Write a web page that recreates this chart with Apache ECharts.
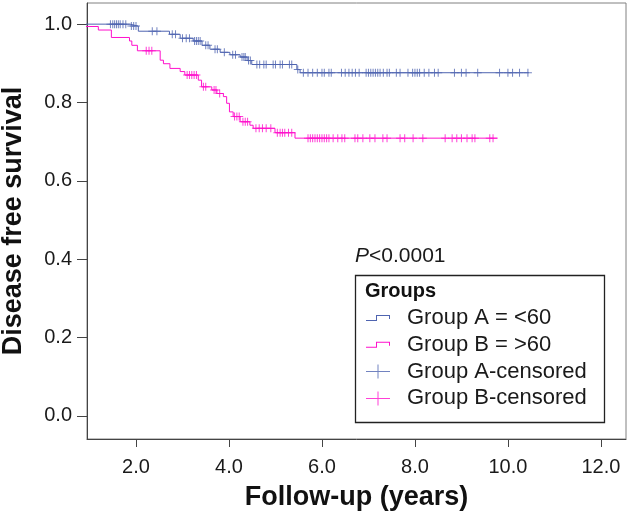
<!DOCTYPE html>
<html>
<head>
<meta charset="utf-8">
<script src="https://cdn.jsdelivr.net/npm/echarts@6/dist/echarts.min.js"></script>
<style>
html,body{margin:0;padding:0;background:#fff;}
#chart{width:628px;height:516px;}
</style>
</head>
<body>
<div id="chart"></div>
<script>
// ---- Data (Kaplan-Meier, disease free survival) ----
const xTicks = [2, 4, 6, 8, 10, 12];
const yTicks = [0, 0.2, 0.4, 0.6, 0.8, 1.0];

const seriesNames = ['Group A = <60', 'Group B = >60', 'Group A-censored', 'Group B-censored'];

// Group A (<60): event times and survival after each event
const groupATimes = [1.87, 2.05, 2.72, 2.95, 3.23, 3.42, 3.59, 3.81, 4.02, 4.24, 4.39, 4.49, 5.46, 5.53];
const groupASurv  = [0.995, 0.982, 0.974, 0.964, 0.957, 0.946, 0.936, 0.928, 0.922, 0.916, 0.907, 0.897, 0.884, 0.876];
const groupAEnd = 10.45;
const groupACensor = [1.45, 1.5, 1.54, 1.58, 1.62, 1.66, 1.72, 1.78, 1.9, 1.95, 2.0, 2.35, 2.45, 2.78, 2.85,
  3.0, 3.08, 3.15, 3.26, 3.3, 3.34, 3.38, 3.5, 3.55, 3.7, 3.75, 3.9, 4.08, 4.14, 4.28, 4.32, 4.35, 4.42, 4.46,
  4.6, 4.66, 4.75, 4.8, 4.95, 5.0, 5.1, 5.15, 5.3, 5.35, 5.48, 5.6, 5.7, 5.8, 5.9, 6.0, 6.05, 6.15, 6.2,
  6.42, 6.5, 6.58, 6.65, 6.72, 6.8, 6.95, 7.0, 7.05, 7.1, 7.15, 7.2, 7.25, 7.32, 7.4, 7.45, 7.6, 7.68,
  7.85, 7.95, 8.0, 8.05, 8.1, 8.2, 8.3, 8.42, 8.5, 8.85, 9.0, 9.1, 9.35, 9.82, 10.0, 10.1, 10.25, 10.43];

// Group B (>60)
const groupBTimes = [0.5, 1.19, 1.47, 1.86, 1.91, 2.03, 2.52, 2.59, 2.73, 2.95, 3.05, 3.34, 3.41, 3.63, 3.74,
  3.88, 3.95, 4.01, 4.09, 4.24, 4.45, 4.52, 4.99, 5.42];
const groupBSurv  = [0.994, 0.985, 0.966, 0.957, 0.946, 0.932, 0.908, 0.899, 0.887, 0.879, 0.870, 0.857, 0.840,
  0.832, 0.823, 0.815, 0.798, 0.776, 0.764, 0.751, 0.742, 0.734, 0.723, 0.709];
const groupBEnd = 9.78;
const groupBCensor = [2.22, 2.28, 2.34, 3.1, 3.15, 3.2, 3.25, 3.3, 3.45, 3.5, 3.68, 3.72, 3.8, 4.12, 4.17, 4.22,
  4.3, 4.35, 4.4, 4.58, 4.65, 4.72, 4.8, 4.9, 5.04, 5.1, 5.15, 5.2, 5.28, 5.35, 5.7, 5.75, 5.8, 5.85, 5.9,
  5.95, 6.0, 6.05, 6.1, 6.15, 6.24, 6.34, 6.43, 6.49, 6.71, 6.77, 6.88, 7.03, 7.14, 7.31, 7.4, 7.68, 7.78,
  7.96, 8.17, 8.65, 8.8, 8.9, 9.0, 9.12, 9.23, 9.29, 9.61, 9.68];

const pText = 'P<0.0001';
const legendTitle = 'Groups';
const xName = 'Follow-up (years)';
const yName = 'Disease free survival';

// ---- Build series data ----
function stepData(times, surv, end) {
  const d = [[0, 1]];
  for (let i = 0; i < times.length; i++) d.push([times[i], surv[i]]);
  d.push([end, surv[surv.length - 1]]);
  return d;
}
function survAt(times, surv, t) {
  let s = 1;
  for (let i = 0; i < times.length; i++) { if (times[i] <= t) s = surv[i]; }
  return s;
}
function censorData(times, surv, cens) {
  return cens.map(t => [t, survAt(times, surv, t)]);
}

const blue = '#4f64b0';
const pink = '#ff10cc';
const font = '"Liberation Sans", Arial, Helvetica, sans-serif';
const plusPath = 'path://M3.5,0H4.5V8H3.5Z M0,3.5H8V4.5H0Z';
const legendPlus = 'path://M11.5,0H12.5V14H11.5Z M0,6.5H24V7.5H0Z';
const legendStep = 'path://M0,5H10V0H24V4H23V1H11V6H0Z';

const chart = echarts.init(document.getElementById('chart'), null, {renderer: 'canvas'});
chart.setOption({
  animation: false,
  backgroundColor: '#fff',
  textStyle: {fontFamily: font},
  grid: {left: 87, right: 2, top: 3, bottom: 77, show: true, borderColor: '#808080', borderWidth: 1,
    containLabel: false, outerBoundsMode: 'none'},
  xAxis: {
    type: 'value', min: 0.946, max: 12.54,
    name: xName, nameLocation: 'middle', nameGap: 45,
    nameTextStyle: {fontSize: 27, fontWeight: 'bold', color: '#111', fontFamily: font},
    axisLine: {show: true, onZero: false, lineStyle: {color: '#444', width: 1}},
    axisTick: {show: true, inside: false, length: 8, customValues: xTicks, lineStyle: {color: '#444'}},
    axisLabel: {show: true, customValues: xTicks, margin: 18, fontSize: 20, color: '#1a1a1a', fontFamily: font,
      formatter: v => v.toFixed(1)},
    splitLine: {show: false}
  },
  yAxis: {
    type: 'value', min: -0.059, max: 1.054,
    name: yName, nameLocation: 'middle', nameGap: 60,
    nameTextStyle: {fontSize: 27, fontWeight: 'bold', color: '#111', fontFamily: font},
    axisLine: {show: true, onZero: false, lineStyle: {color: '#444', width: 1}},
    axisTick: {show: true, inside: false, length: 10, customValues: yTicks, lineStyle: {color: '#444'}},
    axisLabel: {show: true, customValues: yTicks, margin: 15, fontSize: 20, color: '#1a1a1a', fontFamily: font,
      formatter: v => v.toFixed(1)},
    splitLine: {show: false}
  },
  legend: {
    orient: 'vertical', left: 366, top: 307, padding: 0,
    itemWidth: 24, itemHeight: 14, itemGap: 4.8,
    symbolKeepAspect: true,
    itemStyle: {borderWidth: 0},
    textStyle: {fontSize: 22, color: '#1a1a1a', fontFamily: font, lineHeight: 22, padding: [0, 0, 0, 12]},
    data: [
      {name: seriesNames[0], icon: legendStep},
      {name: seriesNames[1], icon: legendStep},
      {name: seriesNames[2], icon: legendPlus},
      {name: seriesNames[3], icon: legendPlus}
    ]
  },
  graphic: [
    {type: 'rect', left: 353, top: 273, z: 0,
      shape: {width: 249, height: 147}, style: {fill: 'none', stroke: '#222', lineWidth: 1.3}},
    {type: 'text', left: 365, top: 281, z: 10,
      style: {text: legendTitle, font: 'bold 20px ' + font, fill: '#111'}},
    {type: 'text', left: 355, top: 246, z: 10,
      style: {text: '{i|P}<0.0001', font: '21px ' + font, fill: '#1a1a1a',
        rich: {i: {fontStyle: 'italic', fontSize: 21, fontFamily: font}}}}
  ],
  series: [
    {name: seriesNames[0], type: 'line', step: 'end', data: stepData(groupATimes, groupASurv, groupAEnd),
      showSymbol: false, symbol: 'none', color: blue, lineStyle: {color: blue, width: 1}, z: 3},
    {name: seriesNames[1], type: 'line', step: 'end', data: stepData(groupBTimes, groupBSurv, groupBEnd),
      showSymbol: false, symbol: 'none', color: pink, lineStyle: {color: pink, width: 1}, z: 3},
    {name: seriesNames[2], type: 'scatter', data: censorData(groupATimes, groupASurv, groupACensor),
      symbol: plusPath, symbolSize: [8, 8], color: blue, itemStyle: {color: blue}, z: 4},
    {name: seriesNames[3], type: 'scatter', data: censorData(groupBTimes, groupBSurv, groupBCensor),
      symbol: plusPath, symbolSize: [8, 8], color: pink, itemStyle: {color: pink}, z: 4}
  ]
});
</script>
</body>
</html>
